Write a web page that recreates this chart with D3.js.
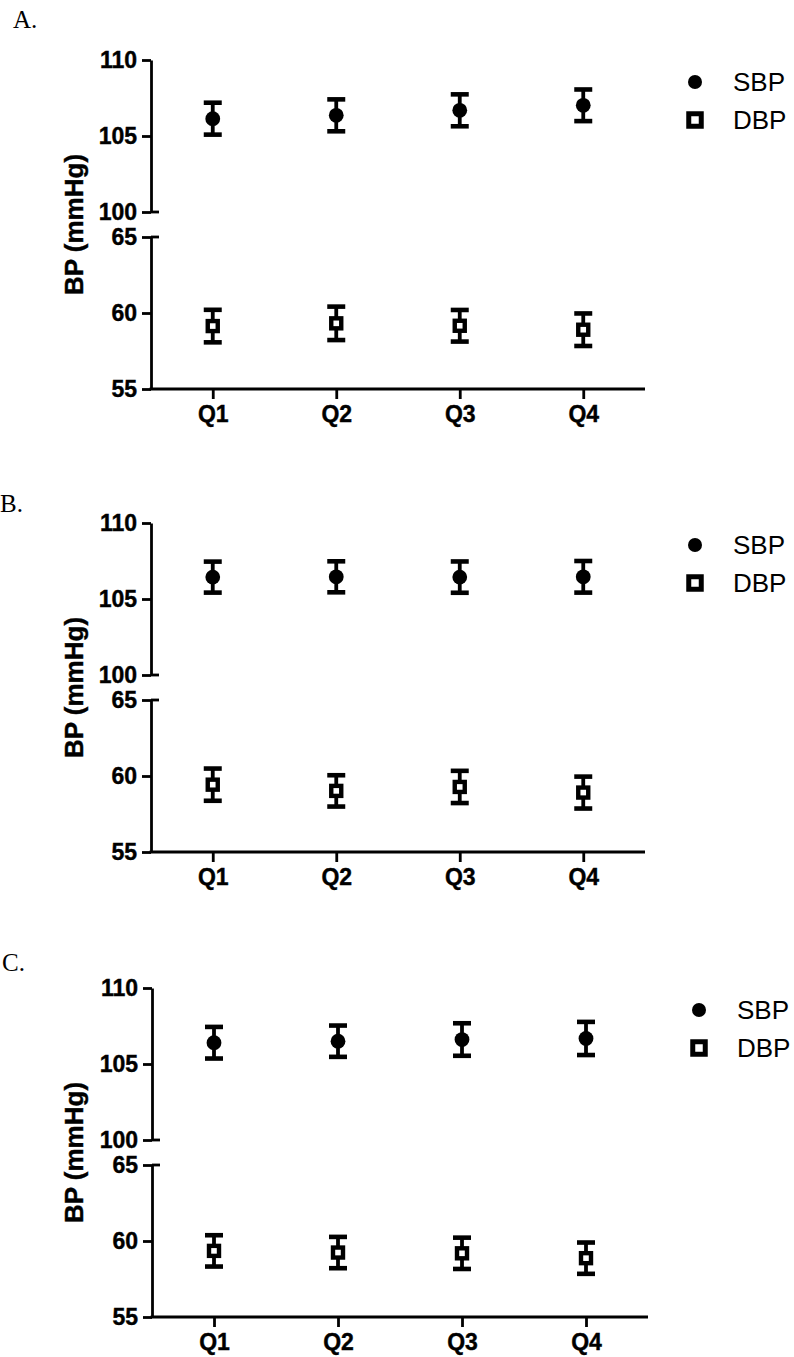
<!DOCTYPE html>
<html>
<head>
<meta charset="utf-8">
<script src="https://cdn.jsdelivr.net/npm/d3@7"></script>
<style>
  html, body { margin: 0; padding: 0; background: #fff; }
  svg { display: block; }
</style>
</head>
<body>
<svg id="chart" width="794" height="1357"></svg>
<script>
// ---------- data ----------
const categories = ["Q1", "Q2", "Q3", "Q4"];
const seriesNames = ["SBP", "DBP"];
const panelLabels = ["A.", "B.", "C."];
const yTicksTop = [100, 105, 110];
const yTicksBottom = [55, 60, 65];
const yDomainTop = [100, 110];
const yDomainBottom = [55, 65];
const yAxisTitle = "BP (mmHg)";

const sbpA = [106.14, 106.36, 106.69, 107.02];
const sbpAErr = [1.05, 1.05, 1.05, 1.04];
const dbpA = [59.14, 59.32, 59.16, 58.90];
const dbpAErr = [1.07, 1.10, 1.04, 1.07];

const sbpB = [106.44, 106.46, 106.44, 106.46];
const sbpBErr = [1.02, 1.02, 1.03, 1.04];
const dbpB = [59.43, 59.02, 59.28, 58.91];
const dbpBErr = [1.06, 1.03, 1.06, 1.05];

const sbpC = [106.40, 106.50, 106.61, 106.68];
const sbpCErr = [1.04, 1.03, 1.07, 1.09];
const dbpC = [59.35, 59.24, 59.19, 58.87];
const dbpCErr = [1.03, 1.03, 1.03, 1.03];

// ---------- layout ----------
const panels = [
  { label: panelLabels[0], sbp: sbpA, sbpErr: sbpAErr, dbp: dbpA, dbpErr: dbpAErr,
    top: 60, x0: 151, x1: 645, legendX: 695, labelX: 13, labelY: 28 },
  { label: panelLabels[1], sbp: sbpB, sbpErr: sbpBErr, dbp: dbpB, dbpErr: dbpBErr,
    top: 523, x0: 151, x1: 645, legendX: 695, labelX: 0, labelY: 512 },
  { label: panelLabels[2], sbp: sbpC, sbpErr: sbpCErr, dbp: dbpC, dbpErr: dbpCErr,
    top: 988, x0: 152, x1: 648, legendX: 699, labelX: 2, labelY: 971 }
];
const segH = 152, gap = 25;
const sansFont = "'Liberation Sans', Arial, Helvetica, sans-serif";
const serifFont = "'Liberation Serif', 'Times New Roman', serif";
const axisW = 2.8;

const svg = d3.select("#chart");

panels.forEach(p => {
  const g = svg.append("g");
  const yTop = d3.scaleLinear().domain(yDomainTop).range([p.top + segH, p.top]);
  const yBot = d3.scaleLinear().domain(yDomainBottom)
    .range([p.top + 2 * segH + gap, p.top + segH + gap]);
  const x = d3.scalePoint().domain(categories).range([p.x0, p.x1]).padding(0.5);

  // panel label
  g.append("text").attr("x", p.labelX).attr("y", p.labelY)
    .attr("font-family", serifFont).attr("font-size", 25).attr("fill", "#000")
    .text(p.label);

  // y axis segments
  const axTop = g.append("g").attr("transform", `translate(${p.x0},0)`)
    .call(d3.axisLeft(yTop).tickValues(yTicksTop).tickSize(9).tickSizeOuter(0).tickPadding(5));
  const axBot = g.append("g").attr("transform", `translate(${p.x0},0)`)
    .call(d3.axisLeft(yBot).tickValues(yTicksBottom).tickSize(9).tickSizeOuter(0).tickPadding(5));
  [axTop, axBot].forEach(ax => {
    ax.select(".domain").attr("stroke", "#000").attr("stroke-width", axisW);
    ax.selectAll(".tick line").attr("stroke", "#000").attr("stroke-width", axisW);
    ax.selectAll(".tick text").attr("font-family", sansFont).attr("font-weight", "bold")
      .attr("font-size", 23).attr("fill", "#000")
      .attr("stroke", "#000").attr("stroke-width", 0.4);
  });
  // break marks: extend ticks at the cut ends to the right
  g.append("line").attr("x1", p.x0).attr("x2", p.x0 + 8)
    .attr("y1", yTop(yDomainTop[0])).attr("y2", yTop(yDomainTop[0]))
    .attr("stroke", "#000").attr("stroke-width", axisW);
  g.append("line").attr("x1", p.x0).attr("x2", p.x0 + 8)
    .attr("y1", yBot(yDomainBottom[1])).attr("y2", yBot(yDomainBottom[1]))
    .attr("stroke", "#000").attr("stroke-width", axisW);

  // x axis
  const axX = g.append("g").attr("transform", `translate(0,${yBot(yDomainBottom[0])})`)
    .call(d3.axisBottom(x).tickSize(10).tickSizeOuter(0).tickPadding(7));
  axX.select(".domain").attr("stroke", "#000").attr("stroke-width", axisW)
    .attr("d", `M${p.x0 - axisW / 2},0H${p.x1}`);
  axX.selectAll(".tick line").attr("stroke", "#000").attr("stroke-width", axisW);
  axX.selectAll(".tick text").attr("font-family", sansFont).attr("font-weight", "bold")
    .attr("font-size", 23).attr("fill", "#000")
    .attr("stroke", "#000").attr("stroke-width", 0.4);

  // y axis title
  const midY = (yTop(yDomainTop[0]) + yBot(yDomainBottom[1])) / 2;
  g.append("text")
    .attr("transform", `translate(83,${midY}) rotate(-90)`)
    .attr("text-anchor", "middle")
    .attr("font-family", sansFont).attr("font-weight", "bold").attr("font-size", 26)
    .attr("fill", "#000").attr("stroke", "#000").attr("stroke-width", 0.4)
    .text(yAxisTitle);

  // error bars helper
  function errBars(vals, errs, y) {
    const eg = g.append("g");
    categories.forEach((c, i) => {
      const cx = x(c);
      const hi = y(vals[i] + errs[i]), lo = y(vals[i] - errs[i]);
      eg.append("line").attr("x1", cx).attr("x2", cx).attr("y1", hi).attr("y2", lo)
        .attr("stroke", "#000").attr("stroke-width", 3.8);
      [hi, lo].forEach(yy => {
        eg.append("line").attr("x1", cx - 9).attr("x2", cx + 9)
          .attr("y1", yy).attr("y2", yy).attr("stroke", "#000").attr("stroke-width", 4.6);
      });
    });
  }
  errBars(p.sbp, p.sbpErr, yTop);
  errBars(p.dbp, p.dbpErr, yBot);

  // SBP circles
  g.selectAll(null).data(categories).enter().append("circle")
    .attr("cx", d => x(d)).attr("cy", (d, i) => yTop(p.sbp[i])).attr("r", 7.4)
    .attr("fill", "#000");
  // DBP squares
  const sq = 10;
  g.selectAll(null).data(categories).enter().append("rect")
    .attr("x", d => x(d) - sq / 2).attr("y", (d, i) => yBot(p.dbp[i]) - sq / 2)
    .attr("width", sq).attr("height", sq)
    .attr("fill", "#fff").attr("stroke", "#000").attr("stroke-width", 4.4);

  // legend
  const lg = g.append("g");
  const ly1 = p.top + 22, ly2 = p.top + 60;
  lg.append("circle").attr("cx", p.legendX).attr("cy", ly1).attr("r", 7).attr("fill", "#000");
  const lsq = 12.5;
  lg.append("rect").attr("x", p.legendX - lsq / 2).attr("y", ly2 - lsq / 2)
    .attr("width", lsq).attr("height", lsq)
    .attr("fill", "#fff").attr("stroke", "#000").attr("stroke-width", 5);
  [[seriesNames[0], ly1], [seriesNames[1], ly2]].forEach(([t, yy]) => {
    lg.append("text").attr("x", p.legendX + 38).attr("y", yy + 9.3)
      .attr("font-family", sansFont).attr("font-size", 26).attr("fill", "#000").text(t);
  });
});
</script>
</body>
</html>
